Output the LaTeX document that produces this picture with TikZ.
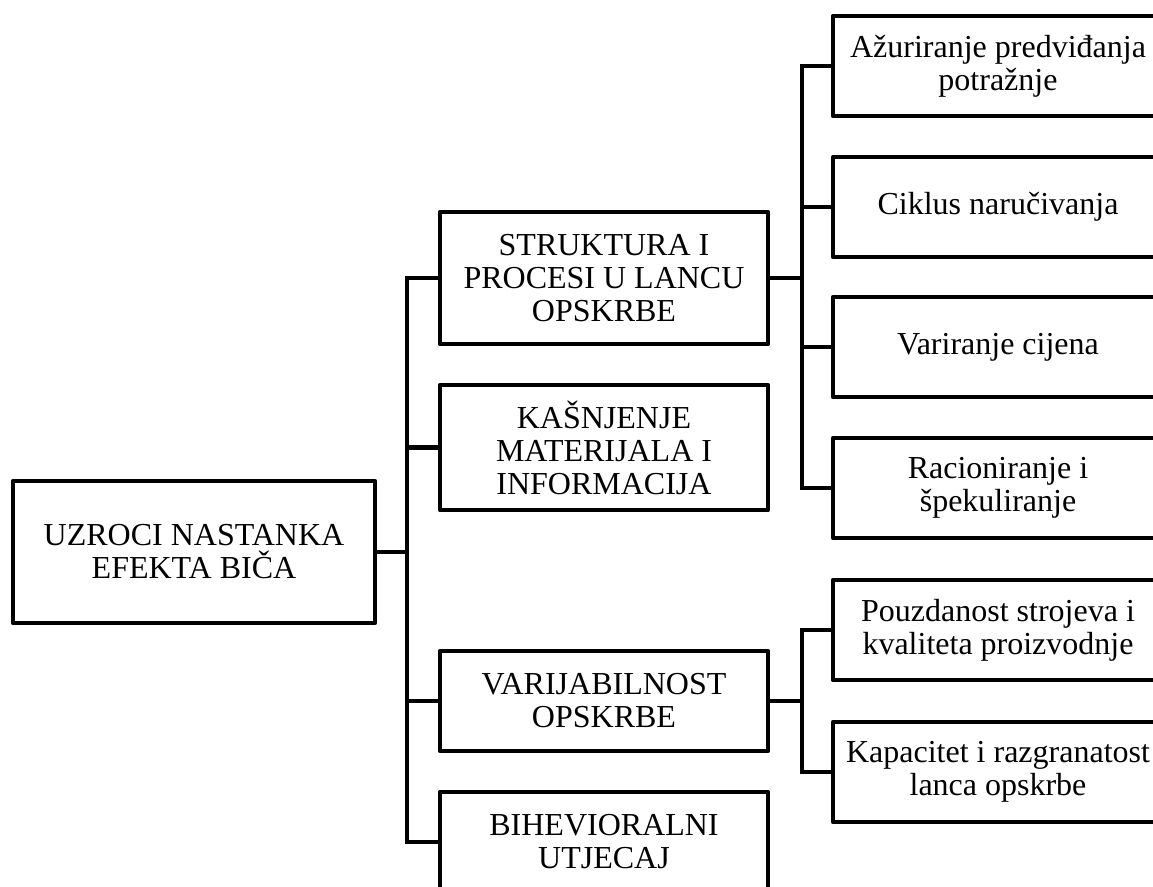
\documentclass[tikz,border=0pt]{standalone}
\usepackage{fontspec}
\setmainfont{Liberation Serif}
\begin{document}
\begin{tikzpicture}[x=0.75pt,y=-0.75pt,
  box/.style={draw=black, line width=3.3pt, align=center, inner sep=0pt,
    font=\fontsize{24}{24.8}\selectfont, line join=round},
  rootbox/.style={box, minimum width=271.5pt, minimum height=106.5pt},
  midbox/.style={box, minimum width=246pt},
  leafbox/.style={box, minimum width=247.5pt, minimum height=75pt},
  conn/.style={draw=black, line width=3.3pt, line join=miter}]
\useasboundingbox (0,0) rectangle (1153,887);
\clip (0,0) rectangle (1153,887);

\node[rootbox] (root) at (194,552) {UZROCI NASTANKA\\EFEKTA BIČA};

\node[midbox, minimum height=99pt] (m1) at (604,278) {STRUKTURA I\\PROCESI U LANCU\\OPSKRBE};
\node[midbox, minimum height=93.75pt] (m2) at (604,447.5) {KAŠNJENJE\\MATERIJALA I\\INFORMACIJA};
\node[midbox, minimum height=75pt] (m3) at (604,701) {VARIJABILNOST\\OPSKRBE};
\node[midbox, minimum height=75pt] (m4) at (604,842) {BIHEVIORALNI\\UTJECAJ};

\node[leafbox] (r1) at (998,66) {Ažuriranje predviđanja\\potražnje};
\node[leafbox] (r2) at (998,207) {Ciklus naručivanja};
\node[leafbox] (r3) at (998,347) {Variranje cijena};
\node[leafbox] (r4) at (998,488) {Racioniranje i\\špekuliranje};
\node[leafbox] (r5) at (998,630) {Pouzdanost strojeva i\\kvaliteta proizvodnje};
\node[leafbox] (r6) at (998,772) {Kapacitet i razgranatost\\lanca opskrbe};

\coordinate (ja) at (407,0);
\coordinate (jb) at (802,0);

\draw[conn] (m1.west) -- (m1.west -| ja) -- (m4.west -| ja) -- (m4.west);
\draw[conn] (m2.west) -- (m2.west -| ja);
\draw[conn] (m3.west) -- (m3.west -| ja);
\draw[conn] (root.east) -- (root.east -| ja);

\draw[conn] (r1.west) -- (r1.west -| jb) -- (r4.west -| jb) -- (r4.west);
\draw[conn] (r2.west) -- (r2.west -| jb);
\draw[conn] (r3.west) -- (r3.west -| jb);
\draw[conn] (m1.east) -- (m1.east -| jb);

\draw[conn] (r5.west) -- (r5.west -| jb) -- (r6.west -| jb) -- (r6.west);
\draw[conn] (m3.east) -- (m3.east -| jb);
\end{tikzpicture}
\end{document}
